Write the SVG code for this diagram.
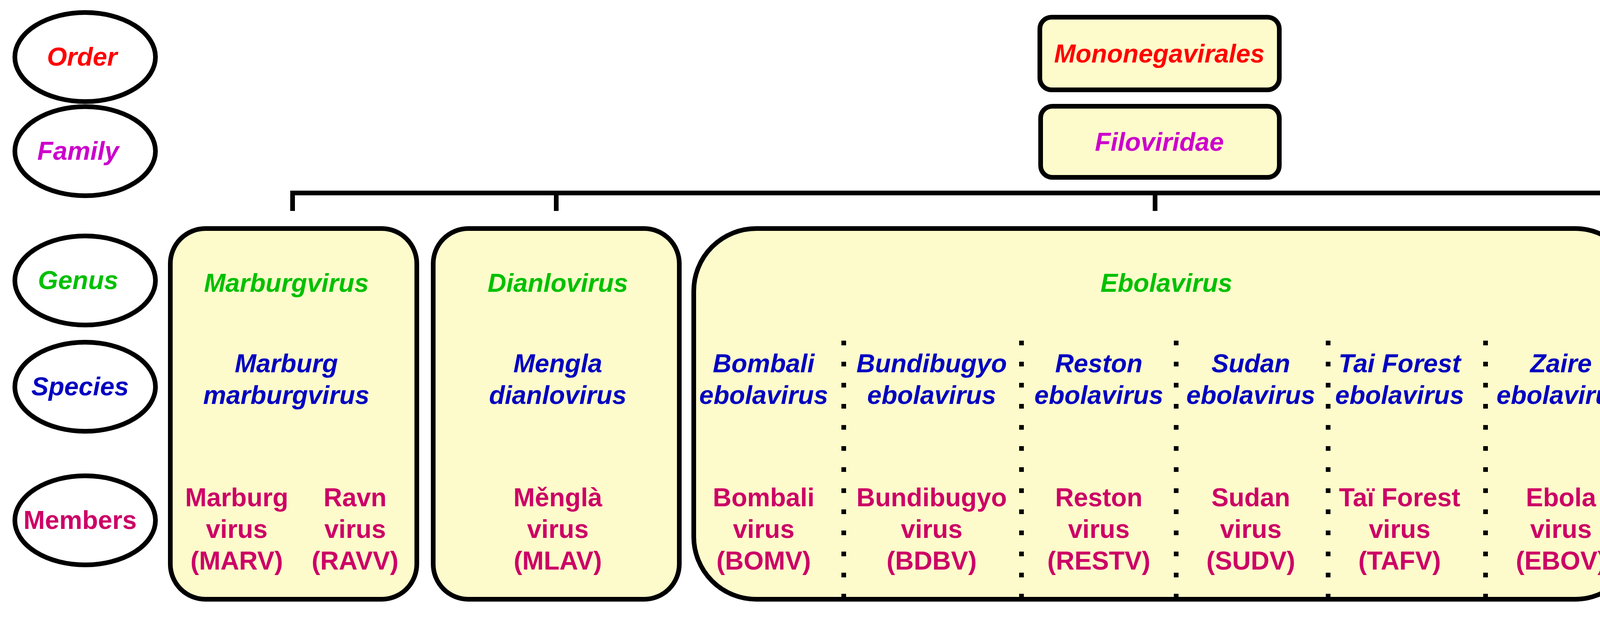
<svg xmlns="http://www.w3.org/2000/svg" width="5695" height="1582" viewBox="0 0 5695 1582">
<style>
text{font-family:"Liberation Sans",Arial,sans-serif;font-weight:bold;font-size:66px;text-anchor:middle}
.i{font-style:italic}
.o{fill:#FF0000}.f{fill:#CC00CC}.g{fill:#00C000}.s{fill:#0000C0}.m{fill:#CC0066}
.lab{fill:#fff;stroke:#000;stroke-width:12}
.box{fill:#FDFBCB;stroke:#000;stroke-width:12}
.dot{stroke:#000;stroke-width:12;stroke-dasharray:12 42;fill:none}
</style>
<rect width="5695" height="1582" fill="#fff"/>
<g id="label-order"><ellipse class="lab" cx="218" cy="146" rx="180" ry="114"/><text class="i o" x="210" y="168">Order</text></g>
<g id="label-family"><ellipse class="lab" cx="218" cy="387" rx="180" ry="114"/><text class="i f" x="200" y="409">Family</text></g>
<g id="label-genus"><ellipse class="lab" cx="218" cy="718" rx="180" ry="114"/><text class="i g" x="200" y="740">Genus</text></g>
<g id="label-species"><ellipse class="lab" cx="218" cy="990" rx="180" ry="114"/><text class="i s" x="205" y="1012">Species</text></g>
<g id="label-members"><ellipse class="lab" cx="218" cy="1332" rx="180" ry="114"/><text class="m" x="205" y="1354">Members</text></g>

<g id="connectors" fill="none" stroke="#000" stroke-width="12">
<path d="M749,540 V494 H5438 V540"/>
<path d="M1424,494 V540 M2957,494 V540 M4446,494 V540 M4932,494 V540"/>
</g>

<g id="order"><rect class="box" x="2662" y="44" width="613" height="186" rx="30"/><text class="i o" x="2968" y="160">Mononegavirales</text></g>
<g id="family"><rect class="box" x="2664" y="272" width="611" height="182" rx="30"/><text class="i f" x="2968" y="386">Filoviridae</text></g>

<g id="marburgvirus"><rect class="box" x="436" y="585" width="631" height="949" rx="90"/>
<text class="i g" x="733" y="747">Marburgvirus</text>
<text class="i s" x="733" y="953">Marburg</text><text class="i s" x="733" y="1034">marburgvirus</text>
<text class="m" x="606" y="1296">Marburg</text><text class="m" x="606" y="1377">virus</text><text class="m" x="606" y="1458">(MARV)</text>
<text class="m" x="909" y="1296">Ravn</text><text class="m" x="909" y="1377">virus</text><text class="m" x="909" y="1458">(RAVV)</text></g>

<g id="dianlovirus"><rect class="box" x="1109" y="585" width="630" height="949" rx="90"/>
<text class="i g" x="1428" y="747">Dianlovirus</text>
<text class="i s" x="1428" y="953">Mengla</text><text class="i s" x="1428" y="1034">dianlovirus</text>
<text class="m" x="1428" y="1296">Měnglà</text><text class="m" x="1428" y="1377">virus</text><text class="m" x="1428" y="1458">(MLAV)</text></g>

<g id="ebolavirus"><rect class="box" x="1776" y="585" width="2416" height="949" rx="160"/>
<text class="i g" x="2986" y="747">Ebolavirus</text>
<path class="dot" d="M2160,872 V1530 M2615,872 V1530 M3011,872 V1530 M3400,872 V1530 M3803,872 V1530"/>
<text class="i s" x="1955" y="953">Bombali</text><text class="i s" x="1955" y="1034">ebolavirus</text>
<text class="m" x="1955" y="1296">Bombali</text><text class="m" x="1955" y="1377">virus</text><text class="m" x="1955" y="1458">(BOMV)</text>
<text class="i s" x="2385" y="953">Bundibugyo</text><text class="i s" x="2385" y="1034">ebolavirus</text>
<text class="m" x="2385" y="1296">Bundibugyo</text><text class="m" x="2385" y="1377">virus</text><text class="m" x="2385" y="1458">(BDBV)</text>
<text class="i s" x="2813" y="953">Reston</text><text class="i s" x="2813" y="1034">ebolavirus</text>
<text class="m" x="2813" y="1296">Reston</text><text class="m" x="2813" y="1377">virus</text><text class="m" x="2813" y="1458">(RESTV)</text>
<text class="i s" x="3202" y="953">Sudan</text><text class="i s" x="3202" y="1034">ebolavirus</text>
<text class="m" x="3202" y="1296">Sudan</text><text class="m" x="3202" y="1377">virus</text><text class="m" x="3202" y="1458">(SUDV)</text>
<text class="i s" x="3583" y="953">Tai Forest</text><text class="i s" x="3583" y="1034">ebolavirus</text>
<text class="m" x="3583" y="1296">Taï Forest</text><text class="m" x="3583" y="1377">virus</text><text class="m" x="3583" y="1458">(TAFV)</text>
<text class="i s" x="3996" y="953">Zaire</text><text class="i s" x="3996" y="1034">ebolavirus</text>
<text class="m" x="3996" y="1296">Ebola</text><text class="m" x="3996" y="1377">virus</text><text class="m" x="3996" y="1458">(EBOV)</text></g>

<g id="cuevavirus"><rect class="box" x="4232" y="585" width="433" height="949" rx="80"/>
<text class="i g" x="4449" y="747">Cuevavirus</text>
<text class="i s" x="4449" y="953">Lloviu</text><text class="i s" x="4449" y="1034">cuevavirus</text>
<text class="m" x="4449" y="1296">Lloviu</text><text class="m" x="4449" y="1377">virus</text><text class="m" x="4449" y="1458">(LLOV)</text></g>

<g id="striavirus"><rect class="box" x="4713" y="585" width="433" height="949" rx="80"/>
<text class="i g" x="4935" y="747">Striavirus</text>
<text class="i s" x="4935" y="953">Xilang</text><text class="i s" x="4935" y="1034">striavirus</text>
<text class="m" x="4930" y="1296">Xīlăng</text><text class="m" x="4930" y="1377">virus</text><text class="m" x="4930" y="1458">(XILV)</text></g>

<g id="thamnovirus"><rect class="box" x="5189" y="585" width="463" height="949" rx="80"/>
<text class="i g" x="5427" y="747">Thamnovirus</text>
<text class="i s" x="5411" y="953">Huangjiao</text><text class="i s" x="5411" y="1034">thamnovirus</text>
<text class="m" x="5418" y="1296">Huángjiāo</text><text class="m" x="5418" y="1377">virus</text><text class="m" x="5418" y="1458">(HUJV)</text></g>
</svg>
